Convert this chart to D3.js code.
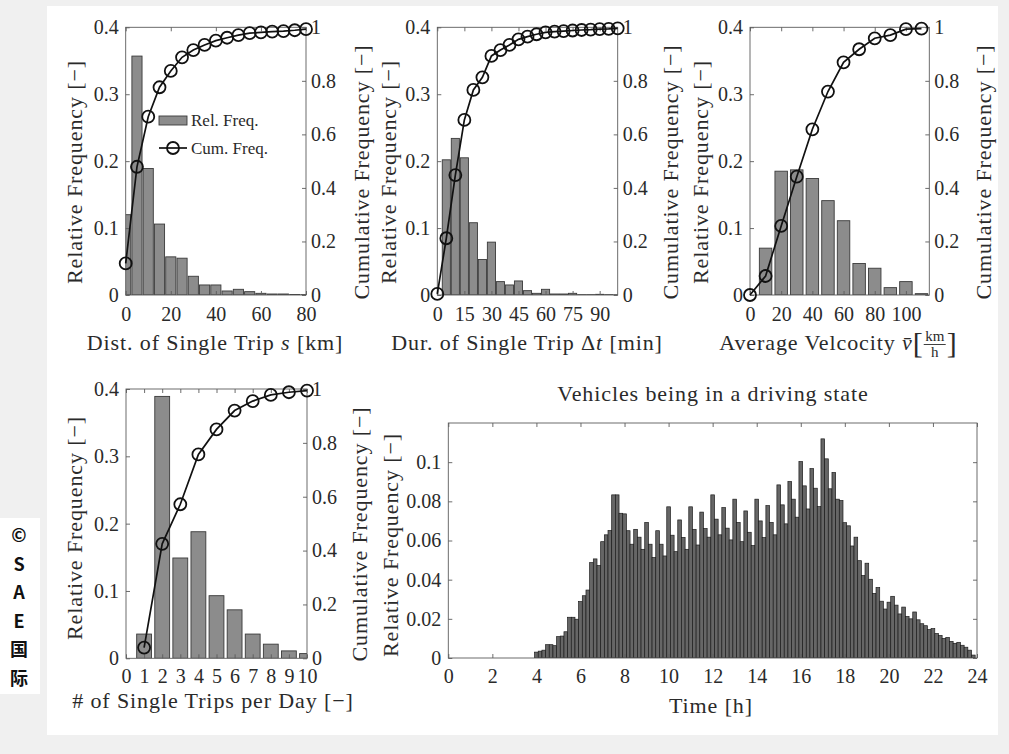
<!DOCTYPE html>
<html><head><meta charset="utf-8">
<script src="https://cdn.jsdelivr.net/npm/d3@7"></script>
<style>
html,body{margin:0;padding:0;background:#f0f0f0;}
svg{display:block;}
svg text{font-family:"Liberation Serif","Tinos","DejaVu Serif",serif;}
svg text.badge{font-family:"Noto Sans CJK SC","Noto Sans",sans-serif;}
</style></head><body>
<svg id="c" width="1009" height="754"></svg>
<script>
// ---------------- DATA ----------------
const relTicks = [0, 0.1, 0.2, 0.3, 0.4];
const cumTicks = [0, 0.2, 0.4, 0.6, 0.8, 1];

// Panel 1: distance of single trip [km]
const distCenters = [0,5,10,15,20,25,30,35,40,45,50,55,60,65,70,75,80];
const distRel = [0.120,0.357,0.189,0.106,0.057,0.055,0.028,0.015,0.015,0.006,0.0085,0.005,0.0025,0.0015,0.0015,0.0007,0.0005];
const distCum = [0.118,0.479,0.666,0.776,0.837,0.888,0.915,0.934,0.950,0.961,0.971,0.978,0.981,0.984,0.986,0.989,0.993];
const distTicks = [0,20,40,60,80];

// Panel 2: duration of single trip [min]
const durCenters = [5,10,15,20,25,30,35,40,45,50,55,60,65,70,75,80,85,90,95,100];
const durRel = [0.202,0.234,0.205,0.108,0.053,0.079,0.020,0.015,0.021,0.0065,0.0025,0.0085,0.0015,0.0015,0.0025,0.0005,0.0005,0.001,0.0005,0.0003];
const durCumX = [0,5,10,15,20,25,30,35,40,45,50,55,60,65,70,75,80,85,90,95,100];
const durCum = [0.004,0.212,0.448,0.654,0.766,0.813,0.893,0.915,0.934,0.955,0.965,0.974,0.981,0.984,0.986,0.988,0.990,0.991,0.993,0.994,0.996];
const durTicks = [0,15,30,45,60,75,90];

// Panel 3: average velocity [km/h]
const velCenters = [10,20,30,40,50,60,70,80,90,100,110];
const velRel = [0.070,0.185,0.187,0.174,0.141,0.111,0.047,0.040,0.011,0.020,0.002];
const velCumX = [0,10,20,30,40,50,60,70,80,90,100,110];
const velCum = [0,0.071,0.258,0.442,0.619,0.760,0.869,0.918,0.959,0.971,0.993,0.995];
const velTicks = [0,20,40,60,80,100];

// Panel 4: number of single trips per day
const tripCenters = [1,2,3,4,5,6,7,8,9,10];
const tripRel = [0.036,0.389,0.149,0.188,0.093,0.072,0.036,0.021,0.011,0.007];
const tripCum = [0.040,0.425,0.572,0.757,0.850,0.920,0.955,0.978,0.988,0.994];
const tripTicks = [0,1,2,3,4,5,6,7,8,9,10];

// Panel 5: vehicles in driving state, 10-minute bins from 4:00 to 24:00
const timeBinStart = 4, timeBinWidth = 1/6;
const timeRel = [
 0.0030,0.0035,0.0040,0.0068,0.0068,0.0063,0.0109,0.0112,0.0134,0.0208,0.0208,0.0198,0.0288,0.0318,0.0347,0.0487,0.0506,0.0472,0.0594,0.0629,0.0651,0.0833,0.0833,0.0739,
 0.0736,0.0650,0.0581,0.0657,0.0617,0.0555,0.0692,0.0581,0.0513,0.0650,0.0581,0.0521,0.0772,0.0627,0.0543,0.0705,0.0616,0.0555,0.0772,0.0657,0.0577,0.0745,0.0661,0.0617,
 0.0833,0.0709,0.0629,0.0768,0.0663,0.0603,0.0811,0.0692,0.0594,0.0751,0.0642,0.0574,0.0811,0.0700,0.0615,0.0778,0.0692,0.0629,0.0884,0.0782,0.0685,0.0901,0.0811,0.0719,
 0.1003,0.0879,0.0761,0.0967,0.0867,0.0773,0.1119,0.1017,0.0864,0.0947,0.0811,0.0804,0.0691,0.0675,0.0572,0.0617,0.0497,0.0421,0.0484,0.0402,0.0330,0.0360,0.0290,0.0250,
 0.0285,0.0315,0.0270,0.0225,0.0260,0.0212,0.0200,0.0235,0.0195,0.0175,0.0165,0.0145,0.0150,0.0125,0.0115,0.0100,0.0105,0.0085,0.0075,0.0080,0.0065,0.0055,0.0040,0.0015
];
const timeTicks = [0,2,4,6,8,10,12,14,16,18,20,22,24];
const timeRelTicks = [0,0.02,0.04,0.06,0.08,0.1];

const badgeChars = ["©","S","A","E","国","际"];

// ---------------- STYLE ----------------
const TXT = "#2a2a2a";
const AX = "#5c5c5c";
const TICK_FS = 20, LAB_FS = 22, LS = "0.9px";

const svg = d3.select("#c");
const defs = svg.append("defs");

svg.append("rect").attr("x",47).attr("y",6).attr("width",951).attr("height",729).attr("fill","#ffffff");
svg.append("rect").attr("x",0).attr("y",518).attr("width",40).attr("height",176).attr("fill","#ffffff");
badgeChars.forEach((ch,i)=>{
  svg.append("text").attr("class","badge").attr("x",19).attr("y",536+i*28.5).attr("dy","0.35em")
    .attr("text-anchor","middle").attr("font-weight","bold").attr("font-size",18).attr("fill","#111").text(ch);
});

function styleAxis(sel){
  sel.select(".domain").remove();
  sel.attr("font-family",null).attr("font-size",null);
  sel.selectAll(".tick line").attr("stroke",AX).attr("stroke-width",0.9);
  sel.selectAll(".tick text").attr("fill",TXT).style("font-size",TICK_FS+"px");
}

function label(x,y,rot,parts,anchor){
  const t = svg.append("text").attr("font-size",LAB_FS)
    .attr("fill",TXT).style("letter-spacing",LS).attr("text-anchor",anchor||"middle");
  if(rot){ t.attr("transform",`translate(${x},${y}) rotate(-90)`).attr("dy","0.35em"); }
  else { t.attr("x",x).attr("y",y); }
  parts.forEach(p=>{
    const s = t.append("tspan").text(p.t);
    if(p.i) s.attr("font-style","italic");
  });
  return t;
}

function drawPanel(o){
  const x = d3.scaleLinear().domain(o.xDomain).range([o.left,o.right]);
  const yL = d3.scaleLinear().domain(o.yDomain).range([o.bottom,o.top]);
  const yR = d3.scaleLinear().domain([0,1]).range([o.bottom,o.top]);
  const g = svg.append("g");
  const cid = "clip-"+o.id;
  defs.append("clipPath").attr("id",cid).append("rect")
    .attr("x",o.left).attr("y",o.top).attr("width",o.right-o.left).attr("height",o.bottom-o.top);
  const half = o.binWidth*o.barRatio/2;
  g.append("g").attr("clip-path",`url(#${cid})`)
    .selectAll("rect").data(o.centers).join("rect")
    .attr("x",c=>x(c-half)).attr("width",c=>x(c+half)-x(c-half))
    .attr("y",(c,i)=>yL(o.rel[i])).attr("height",(c,i)=>yL(0)-yL(o.rel[i]))
    .attr("fill",o.barFill).attr("stroke",o.barStroke).attr("stroke-width",o.barSW);

  g.append("g").attr("transform",`translate(0,${o.bottom})`)
    .call(d3.axisBottom(x).tickValues(o.xTicks).tickSize(-4).tickPadding(o.xPad).tickFormat(d=>String(d))).call(styleAxis);
  g.append("g").attr("transform",`translate(0,${o.top})`)
    .call(d3.axisTop(x).tickValues(o.xTicks).tickSize(-4).tickFormat(()=>"")).call(styleAxis);
  g.append("g").attr("transform",`translate(${o.left},0)`)
    .call(d3.axisLeft(yL).tickValues(o.yTicks).tickSize(-4).tickPadding(7).tickFormat(d=>String(d))).call(styleAxis);
  if(o.cum){
    g.append("g").attr("transform",`translate(${o.right},0)`)
      .call(d3.axisRight(yR).tickValues(cumTicks).tickSize(-4).tickPadding(5).tickFormat(d=>String(d))).call(styleAxis);
  } else {
    g.append("g").attr("transform",`translate(${o.right},0)`)
      .call(d3.axisRight(yL).tickValues(o.yTicks).tickSize(-4).tickFormat(()=>"")).call(styleAxis);
  }
  g.append("rect").attr("x",o.left).attr("y",o.top).attr("width",o.right-o.left).attr("height",o.bottom-o.top)
    .attr("fill","none").attr("stroke",AX).attr("stroke-width",0.9);

  if(o.cum){
    const pts = o.cumX.map((v,i)=>({x:v,y:o.cum[i]}));
    g.append("path").datum(pts)
      .attr("d",d3.line().x(d=>x(d.x)).y(d=>yR(d.y)))
      .attr("fill","none").attr("stroke","#111").attr("stroke-width",1.7);
    g.selectAll("circle.cm").data(pts).join("circle").attr("class","cm")
      .attr("cx",d=>x(d.x)).attr("cy",d=>yR(d.y)).attr("r",6)
      .attr("fill","none").attr("stroke","#111").attr("stroke-width",1.8);
  }
  return {x,yL,yR};
}

const topBar = {barFill:"#8c8c8c", barStroke:"#3a3a3a", barSW:0.9};

drawPanel(Object.assign({id:"p1",left:125.7,right:306,top:27.3,bottom:295,xDomain:[0,80],yDomain:[0,0.4],
  centers:distCenters,rel:distRel,binWidth:5,barRatio:0.9,xTicks:distTicks,yTicks:relTicks,xPad:12,
  cum:distCum,cumX:distCenters},topBar));
drawPanel(Object.assign({id:"p2",left:437.3,right:617.7,top:27.3,bottom:295,xDomain:[0,100],yDomain:[0,0.4],
  centers:durCenters,rel:durRel,binWidth:5,barRatio:0.9,xTicks:durTicks,yTicks:relTicks,xPad:12,
  cum:durCum,cumX:durCumX},topBar));
drawPanel(Object.assign({id:"p3",left:750,right:929.3,top:27.3,bottom:295,xDomain:[0,115],yDomain:[0,0.4],
  centers:velCenters,rel:velRel,binWidth:10,barRatio:0.8,xTicks:velTicks,yTicks:relTicks,xPad:12,
  cum:velCum,cumX:velCumX},topBar));
drawPanel(Object.assign({id:"p4",left:126,right:307,top:389,bottom:658.3,xDomain:[0,10],yDomain:[0,0.4],
  centers:tripCenters,rel:tripRel,binWidth:1,barRatio:0.82,xTicks:tripTicks,yTicks:relTicks,xPad:11,
  cum:tripCum,cumX:tripCenters},topBar));
const timeCenters = timeRel.map((v,i)=>timeBinStart+i*timeBinWidth);
drawPanel({id:"p5",left:448.3,right:977,top:423,bottom:658,xDomain:[0,24],yDomain:[0,0.12],
  centers:timeCenters,rel:timeRel,binWidth:timeBinWidth,barRatio:1,xTicks:timeTicks,yTicks:timeRelTicks,xPad:11,
  barFill:"#666666",barStroke:"#1c1c1c",barSW:0.7,cum:null});

// legend panel 1
svg.append("rect").attr("x",159).attr("y",116).attr("width",28).attr("height",9)
  .attr("fill",topBar.barFill).attr("stroke",topBar.barStroke).attr("stroke-width",0.9);
svg.append("text").attr("x",191).attr("y",126).attr("font-size",17).attr("fill",TXT).text("Rel. Freq.");
svg.append("line").attr("x1",159).attr("x2",187).attr("y1",148).attr("y2",148).attr("stroke","#111").attr("stroke-width",1.7);
svg.append("circle").attr("cx",173).attr("cy",148).attr("r",6).attr("fill","none").attr("stroke","#111").attr("stroke-width",1.8);
svg.append("text").attr("x",191).attr("y",154).attr("font-size",17).attr("fill",TXT).text("Cum. Freq.");

// axis labels
const relLab = [{t:"Relative Frequency [−]"}];
const cumLab = [{t:"Cumulative Frequency [−]"}];
label(74,172,true,relLab);
label(361,172,true,cumLab);
label(388,172,true,relLab);
label(670,172,true,cumLab);
label(700,172,true,relLab);
label(983,172,true,cumLab);
label(74,528,true,relLab);
label(359,534,true,cumLab);
label(390,545,true,relLab);

label(215,350,false,[{t:"Dist. of Single Trip "},{t:"s",i:true},{t:" [km]"}]);
label(527,350,false,[{t:"Dur. of Single Trip Δ"},{t:"t",i:true},{t:" [min]"}]);
label(213,708,false,[{t:"# of Single Trips per Day [−]"}]);
label(711,713,false,[{t:"Time [h]"}]);
label(713,401,false,[{t:"Vehicles being in a driving state"}]);

(function(){
  const cx = 838, base = 350;
  const t = label(0,base,false,[{t:"Average Velcocity "},{t:"v\u0304",i:true},{t:" "}],"start");
  const w1 = t.node().getComputedTextLength();
  const lb = svg.append("text").attr("y",base+3).attr("font-size",30).attr("fill",TXT).text("[");
  const wb = lb.node().getComputedTextLength();
  const fw = 24;
  const total = w1 + wb + fw + wb;
  const x0 = cx - total/2;
  t.attr("x",x0);
  lb.attr("x",x0+w1);
  const fx = x0+w1+wb;
  svg.append("text").attr("x",fx+fw/2).attr("y",base-9).attr("text-anchor","middle").attr("font-size",15).attr("fill",TXT).text("km");
  svg.append("line").attr("x1",fx+1).attr("x2",fx+fw-1).attr("y1",base-5.5).attr("y2",base-5.5).attr("stroke",TXT).attr("stroke-width",0.9);
  svg.append("text").attr("x",fx+fw/2).attr("y",base+7).attr("text-anchor","middle").attr("font-size",15).attr("fill",TXT).text("h");
  svg.append("text").attr("x",fx+fw).attr("y",base+3).attr("font-size",30).attr("fill",TXT).text("]");
})();
</script></body></html>
